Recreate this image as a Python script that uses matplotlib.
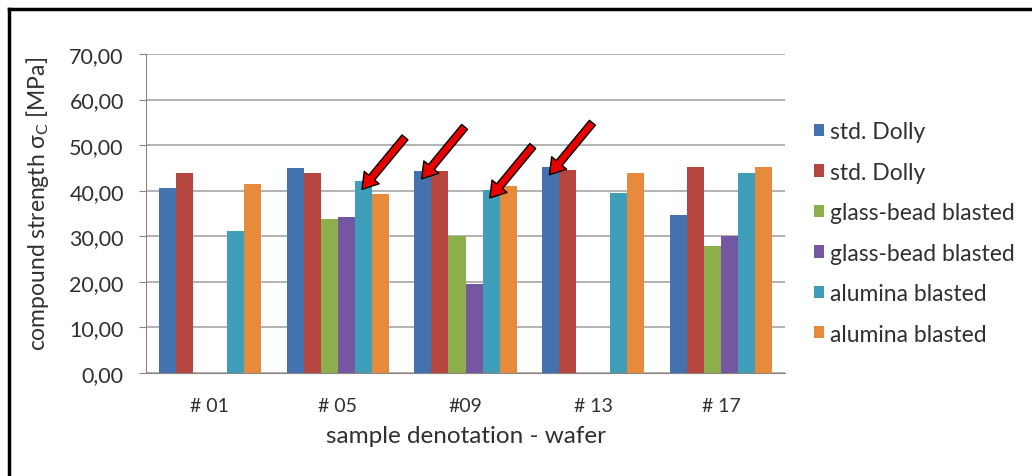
import numpy as np
import matplotlib
matplotlib.use("Agg")
import matplotlib.pyplot as plt
from matplotlib.lines import Line2D

plt.rcParams['font.family'] = ['Lato', 'DejaVu Sans']

# --- data -------------------------------------------------------------
wafers = ["# 01", "# 05", "#09", "# 13", "# 17"]
series_labels = ["std. Dolly", "std. Dolly",
                 "glass-bead blasted", "glass-bead blasted",
                 "alumina blasted", "alumina blasted"]
std_dolly_a   = [40.5, 45.0, 44.4, 45.3, 34.7]
std_dolly_b   = [43.9, 43.9, 44.4, 44.5, 45.1]
glass_bead_a  = [np.nan, 33.9, 30.1, np.nan, 27.9]
glass_bead_b  = [np.nan, 34.2, 19.5, np.nan, 30.1]
alumina_a     = [31.2, 42.1, 40.2, 39.4, 43.9]
alumina_b     = [41.4, 39.2, 41.0, 43.9, 45.3]
y_ticks = [0, 10, 20, 30, 40, 50, 60, 70]
y_tick_labels = ["0,00", "10,00", "20,00", "30,00", "40,00", "50,00", "60,00", "70,00"]
# bars marked with an arrow: (series index, wafer index)
marked = [(4, 1), (0, 2), (4, 2), (0, 3)]

colors = ["#4472AE", "#B5453F", "#8DAE4C", "#7457A0", "#3F9FBA", "#E68A3C"]

series = [std_dolly_a, std_dolly_b, glass_bead_a, glass_bead_b, alumina_a, alumina_b]

# --- figure -----------------------------------------------------------
W, H = 1032, 477
fig = plt.figure(figsize=(W / 100, H / 100), dpi=100)
ax = fig.add_axes([146 / W, 1 - 374 / H, (785 - 146) / W, (374 - 55) / H])

n = len(series)
group_w = 0.8
bw = group_w / n
x = np.arange(len(wafers))
for i, (vals, col, lab) in enumerate(zip(series, colors, series_labels)):
    ax.bar(x + (i - (n - 1) / 2) * bw, vals, width=bw, color=col, label=lab,
           linewidth=0, zorder=3)

ax.set_xlim(-0.5, len(wafers) - 0.5)
ax.set_ylim(0, 70)
ax.set_yticks(y_ticks)
ax.set_yticklabels(y_tick_labels)
ax.set_xticks(x)
ax.set_xticklabels(wafers)
ax.yaxis.grid(True, color="#A6A6A6", linewidth=1.2, zorder=0)
ax.set_axisbelow(True)

for s in ["top", "right"]:
    ax.spines[s].set_visible(False)
ax.spines["left"].set_color("#8C8480")
ax.spines["bottom"].set_color("#8C8480")
ax.tick_params(axis="y", length=5, color="#8C8480", pad=11, labelsize=15.5,
               labelcolor="#303030")
ax.tick_params(axis="x", length=0, pad=17.5, labelsize=14, labelcolor="#303030")

ax.set_ylabel(r"compound strength $\mathregular{\sigma_C}$ [MPa]", fontsize=16.5,
              color="#303030")
ax.yaxis.set_label_coords(-0.148, 0.533)
ax.set_xlabel("sample denotation - wafer", fontsize=17.5, color="#303030")
ax.xaxis.set_label_coords(0.5, -0.163)

# arrows pointing at selected bars
for si, wi in marked:
    xc = wi + (si - (n - 1) / 2) * bw
    val = series[si][wi]
    ax.annotate("", xy=(xc - 0.01, val - 1.8), xytext=(43, 52),
                textcoords="offset pixels",
                arrowprops=dict(arrowstyle="simple,head_length=1.1,head_width=1.4,tail_width=0.55",
                                mutation_scale=10, fc="#E80000", ec="black", lw=1.0,
                                shrinkA=0, shrinkB=0),
                zorder=5)

# legend
leg = ax.legend(loc="upper left", bbox_to_anchor=(805 / W, 1 - 113 / H),
                bbox_transform=fig.transFigure, frameon=False,
                fontsize=16.5, handlelength=0.44, handleheight=0.44,
                handletextpad=0.25, labelspacing=0.85, borderaxespad=0)
for t in leg.get_texts():
    t.set_color("#303030")

# outer frame (top and left edges)
fig.add_artist(Line2D([9 / W, 9 / W], [0, 1 - 10 / H], transform=fig.transFigure,
                      color="black", linewidth=2.5))
fig.add_artist(Line2D([9 / W, 1], [1 - 10 / H, 1 - 10 / H], transform=fig.transFigure,
                      color="black", linewidth=2.5))

fig.savefig("out.png", dpi=100)
